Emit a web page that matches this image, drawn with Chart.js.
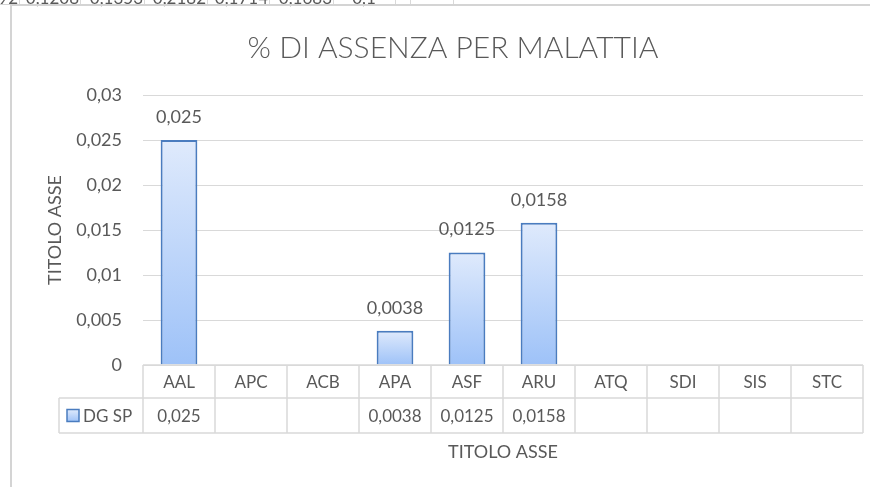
<!DOCTYPE html>
<html>
<head>
<meta charset="utf-8">
<script src="https://cdn.jsdelivr.net/npm/chart.js@4/dist/chart.umd.min.js"></script>
<style>
html,body{margin:0;padding:0;background:#fff;}
#wrap{width:870px;height:487px;position:relative;}
</style>
</head>
<body>
<div id="wrap"><canvas id="c" width="870" height="487"></canvas></div>
<script>
const categories = ['AAL','APC','ACB','APA','ASF','ARU','ATQ','SDI','SIS','STC'];
const seriesName = 'DG SP';
const values = [0.025, null, null, 0.0038, 0.0125, 0.0158, null, null, null, null];
const valueLabels = ['0,025', '', '', '0,0038', '0,0125', '0,0158', '', '', '', ''];
const yTickLabels = ['0', '0,005', '0,01', '0,015', '0,02', '0,025', '0,03'];
const chartTitle = '% DI ASSENZA PER MALATTIA';
const axisTitle = 'TITOLO ASSE';
const sheetRow = ['92', '0,1208', '0,1353', '0,2182', '0,1714', '0,1683', '0,1'];

const FONT = 'Lato, "Open Sans", sans-serif';
const TXT = '#595959';
const GRID = '#d9d9d9';
const BAR_TOP = '#dfeafc';
const BAR_BOT = '#9ec2f8';
const BAR_BORDER = '#4a7cbf';

function barGradient(ctx) {
  const chart = ctx.chart;
  const ys = chart.scales && chart.scales.y;
  if (!ys || ctx.raw == null) return BAR_BOT;
  const top = ys.getPixelForValue(ctx.raw);
  const bot = ys.getPixelForValue(0);
  if (!isFinite(top) || !isFinite(bot) || top === bot) return BAR_BOT;
  const g = chart.ctx.createLinearGradient(0, top, 0, bot);
  g.addColorStop(0, BAR_TOP);
  g.addColorStop(1, BAR_BOT);
  return g;
}

const decor = {
  id: 'decor',
  beforeDraw(chart) {
    const c = chart.ctx;
    c.save();
    // spreadsheet remnants at top
    c.strokeStyle = GRID;
    c.lineWidth = 1;
    const seps = [19, 80, 144, 207, 269, 333, 395, 410, 453];
    seps.forEach(x => { c.beginPath(); c.moveTo(x + 0.5, 0); c.lineTo(x + 0.5, 5); c.stroke(); });
    c.fillStyle = TXT;
    c.font = '17px ' + FONT;
    c.textBaseline = 'alphabetic';
    c.textAlign = 'right';
    const rights = [18, 79, 143, 206, 268, 332];
    for (let i = 0; i < 6; i++) c.fillText(sheetRow[i], rights[i], 4);
    c.textAlign = 'center';
    c.fillText(sheetRow[6], 364, 4);
    // chart frame (left and top)
    c.strokeStyle = '#d4d4d4';
    c.lineWidth = 2;
    c.beginPath();
    c.moveTo(11, 487); c.lineTo(11, 5); c.lineTo(870, 5);
    c.stroke();
    c.lineWidth = 1;
    c.beginPath(); c.moveTo(0, 4.5); c.lineTo(11, 4.5); c.stroke();
    // title
    c.fillStyle = TXT;
    c.font = '300 30px ' + FONT;
    c.textAlign = 'center';
    c.textBaseline = 'middle';
    c.fillText(chartTitle, 453, 48);
    // y axis title
    c.font = '18px ' + FONT;
    c.save();
    c.translate(55, chart.chartArea.top + (chart.chartArea.bottom - chart.chartArea.top) / 2);
    c.rotate(-Math.PI / 2);
    c.fillText(axisTitle, 0, 0);
    c.restore();
    c.restore();
  },
  afterDraw(chart) {
    const c = chart.ctx;
    const xs = chart.scales.x;
    const area = chart.chartArea;
    const n = categories.length;
    const left = area.left, right = area.right;
    const cw = (right - left) / n;
    const r0 = area.bottom, r1 = r0 + 33, r2 = r1 + 35;
    const legLeft = 59;
    c.save();
    c.strokeStyle = GRID;
    c.lineWidth = 1.5;
    c.beginPath();
    c.moveTo(left, r0); c.lineTo(right, r0);
    c.moveTo(legLeft, r1); c.lineTo(right, r1);
    c.moveTo(legLeft, r2); c.lineTo(right, r2);
    for (let i = 0; i <= n; i++) {
      const x = left + cw * i;
      c.moveTo(x, r0); c.lineTo(x, r2);
    }
    c.moveTo(legLeft, r1); c.lineTo(legLeft, r2);
    c.stroke();
    c.fillStyle = TXT;
    c.font = '17px ' + FONT;
    c.textAlign = 'center';
    c.textBaseline = 'middle';
    categories.forEach((cat, i) => {
      const x = xs.getPixelForValue(i);
      c.fillText(cat, x, (r0 + r1) / 2 + 1);
      if (valueLabels[i]) c.fillText(valueLabels[i], x, (r1 + r2) / 2 + 1);
    });
    // legend key
    const ky = (r1 + r2) / 2 - 6;
    const g = c.createLinearGradient(0, ky, 0, ky + 12);
    g.addColorStop(0, BAR_TOP); g.addColorStop(1, BAR_BOT);
    c.fillStyle = g;
    c.fillRect(67, ky, 12, 12);
    c.strokeStyle = BAR_BORDER;
    c.lineWidth = 1.5;
    c.strokeRect(67, ky, 12, 12);
    c.fillStyle = TXT;
    c.textAlign = 'left';
    c.fillText(seriesName, 83, (r1 + r2) / 2 + 1);
    // x axis title
    c.textAlign = 'center';
    c.font = '18px ' + FONT;
    c.fillText(axisTitle, (left + right) / 2, 452);
    // data labels
    c.font = '18px ' + FONT;
    const meta = chart.getDatasetMeta(0);
    meta.data.forEach((bar, i) => {
      if (values[i] == null) return;
      c.fillText(valueLabels[i], bar.x, bar.y - 23);
    });
    c.restore();
  }
};

new Chart(document.getElementById('c'), {
  type: 'bar',
  data: {
    labels: categories,
    datasets: [{
      label: seriesName,
      data: values,
      backgroundColor: barGradient,
      borderColor: BAR_BORDER,
      borderWidth: 2,
      categoryPercentage: 1,
      barPercentage: 0.51
    }]
  },
  options: {
    responsive: false,
    animation: false,
    devicePixelRatio: 1,
    layout: { padding: { left: 0, right: 7, top: 95, bottom: 122 } },
    plugins: { legend: { display: false }, title: { display: false }, tooltip: { enabled: false } },
    scales: {
      x: { display: false },
      y: {
        min: 0, max: 0.03,
        afterFit(s) { s.width = 143; },
        border: { display: false },
        grid: { color: GRID, lineWidth: 1, drawTicks: false },
        ticks: {
          stepSize: 0.005,
          padding: 21,
          color: TXT,
          font: { family: FONT, size: 18 },
          callback: (v, i) => yTickLabels[i]
        }
      }
    }
  },
  plugins: [decor]
});
</script>
</body>
</html>
